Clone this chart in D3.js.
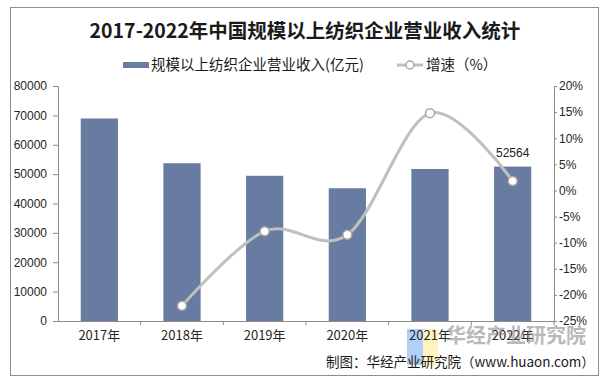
<!DOCTYPE html>
<html>
<head>
<meta charset="utf-8">
<script src="https://cdn.jsdelivr.net/npm/d3@7"></script>
<style>
  body { margin: 0; background: #fff; }
  svg { display: block; }
</style>
</head>
<body>
<div id="chart"></div>
<script>
////////// Data ///////////
var years = ["2017年", "2018年", "2019年", "2020年", "2021年", "2022年"];
var revenue = [68935, 53703, 49436, 45191, 51749, 52564];      // 亿元
var growth = [null, -22.1, -7.8, -8.5, 14.8, 1.8];              // %
var leftTicks = [0, 10000, 20000, 30000, 40000, 50000, 60000, 70000, 80000];
var rightTicks = [-25, -20, -15, -10, -5, 0, 5, 10, 15, 20];
var labelYears = ["2022年"];   // bars that carry a value label

var W = 610, H = 385;
var margin = { top: 86, right: 56, bottom: 64, left: 58 };
var cjk = "'Noto Sans CJK SC', 'Noto Sans', sans-serif";
var latin = "'Liberation Sans', Arial, sans-serif";

var svg = d3.select("div#chart")
  .append("svg")
  .attr("width", W)
  .attr("height", H);

// outer frame
svg.append("rect")
  .attr("x", 10.5).attr("y", 7.5)
  .attr("width", 588).attr("height", 368)
  .attr("fill", "none")
  .attr("stroke", "#8c8c8c");

// title
svg.append("text")
  .attr("x", 305).attr("y", 38)
  .attr("text-anchor", "middle")
  .style("font-family", cjk)
  .style("font-size", "19.5px")
  .style("font-weight", "bold")
  .attr("fill", "#1a1a1a")
  .text("2017-2022年中国规模以上纺织企业营业收入统计");

// scales
var x = d3.scaleBand().domain(years).range([margin.left, W - margin.right]).padding(0);
var yL = d3.scaleLinear().domain([0, 80000]).range([H - margin.bottom, margin.top]);
var yR = d3.scaleLinear().domain([-25, 20]).range([H - margin.bottom, margin.top]);

// bars
var barW = x.bandwidth() * 0.45;
svg.selectAll(".bar")
  .data(years)
  .enter().append("rect")
  .attr("class", "bar")
  .attr("x", function(d) { return x(d) + (x.bandwidth() - barW) / 2; })
  .attr("y", function(d, i) { return yL(revenue[i]); })
  .attr("width", barW)
  .attr("height", function(d, i) { return yL(0) - yL(revenue[i]); })
  .attr("fill", "#687ba1");

// value label
svg.selectAll(".vlabel")
  .data(labelYears)
  .enter().append("text")
  .attr("x", function(d) { return x(d) + x.bandwidth() / 2; })
  .attr("y", function(d) { return yL(revenue[years.indexOf(d)]) - 10; })
  .attr("text-anchor", "middle")
  .style("font-family", latin)
  .style("font-size", "12px")
  .attr("fill", "#222")
  .text(function(d) { return revenue[years.indexOf(d)]; });

// left axis
var axL = svg.append("g")
  .attr("transform", "translate(" + margin.left + ",0)")
  .call(d3.axisLeft(yL).tickValues(leftTicks).tickSize(5).tickPadding(6).tickFormat(d3.format("d")));

// right axis
var axR = svg.append("g")
  .attr("transform", "translate(" + (W - margin.right) + ",0)")
  .call(d3.axisRight(yR).tickValues(rightTicks).tickSize(3).tickPadding(2)
    .tickFormat(function(d) { return d + "%"; }));

// bottom axis: labels at centres, ticks at band edges
var axB = svg.append("g")
  .attr("transform", "translate(0," + (H - margin.bottom) + ")")
  .call(d3.axisBottom(x).tickSize(0).tickPadding(10));
axB.selectAll(".bticks")
  .data(years.slice(1).concat(["end"]))
  .enter().append("line")
  .attr("x1", function(d) { return d == "end" ? x.range()[1] : x(d); })
  .attr("x2", function(d) { return d == "end" ? x.range()[1] : x(d); })
  .attr("y1", 0).attr("y2", 4)
  .attr("stroke", "#8c8c8c");

[axL, axR, axB].forEach(function(ax) {
  ax.select(".domain").attr("stroke", "#8c8c8c");
  ax.selectAll(".tick line").attr("stroke", "#8c8c8c");
  ax.selectAll(".tick text")
    .style("font-family", latin)
    .style("font-size", "12px")
    .attr("fill", "#262626");
});
axB.selectAll(".tick text")
  .style("font-family", cjk)
  .style("font-size", "13px");

// growth line (smoothed)
var pts = years.map(function(d, i) { return { year: d, v: growth[i] }; })
  .filter(function(p) { return p.v !== null; });

var line = d3.line()
  .x(function(p) { return x(p.year) + x.bandwidth() / 2; })
  .y(function(p) { return yR(p.v); })
  .curve(d3.curveCardinal.tension(0));

svg.append("path")
  .datum(pts)
  .attr("d", line)
  .attr("fill", "none")
  .attr("stroke", "#bfbfbf")
  .attr("stroke-width", 3);

svg.selectAll(".dot")
  .data(pts)
  .enter().append("circle")
  .attr("cx", function(p) { return x(p.year) + x.bandwidth() / 2; })
  .attr("cy", function(p) { return yR(p.v); })
  .attr("r", 4.5)
  .attr("fill", "#fff")
  .attr("stroke", "#a6a6a6")
  .attr("stroke-width", 1.5);

// legend
var lg = svg.append("g").attr("transform", "translate(0,65)");
lg.append("rect")
  .attr("x", 123).attr("y", -3)
  .attr("width", 26).attr("height", 6)
  .attr("fill", "#687ba1");
lg.append("text")
  .attr("x", 151).attr("y", 5)
  .style("font-family", cjk)
  .style("font-size", "14.5px")
  .attr("fill", "#1a1a1a")
  .text("规模以上纺织企业营业收入(亿元)");
lg.append("line")
  .attr("x1", 397).attr("x2", 423)
  .attr("y1", 0).attr("y2", 0)
  .attr("stroke", "#bfbfbf").attr("stroke-width", 3);
lg.append("circle")
  .attr("cx", 410).attr("cy", 0).attr("r", 4)
  .attr("fill", "#fff").attr("stroke", "#a6a6a6").attr("stroke-width", 1.5);
lg.append("text")
  .attr("x", 426).attr("y", 5)
  .style("font-family", cjk)
  .style("font-size", "14.5px")
  .attr("fill", "#1a1a1a")
  .text("增速（%）");

// watermark logo blocks
svg.append("rect")
  .attr("x", 407).attr("y", 329).attr("width", 16).attr("height", 36)
  .attr("fill", "#9fc3f2").attr("opacity", 0.8);
svg.append("rect")
  .attr("x", 423).attr("y", 329).attr("width", 15).attr("height", 36)
  .attr("fill", "#fff0b0").attr("opacity", 0.8);
axB.raise();

// source
svg.append("text")
  .attr("x", 326).attr("y", 367)
  .style("font-family", cjk)
  .style("font-size", "13.5px")
  .attr("fill", "#1a1a1a")
  .text("制图：华经产业研究院（www.huaon.com）");

// watermark text
svg.append("text")
  .attr("x", 446).attr("y", 343)
  .style("font-family", cjk)
  .style("font-size", "20px")
  .style("font-weight", "bold")
  .attr("fill", "#808080")
  .attr("opacity", 0.55)
  .text("华经产业研究院");
</script>
</body>
</html>
